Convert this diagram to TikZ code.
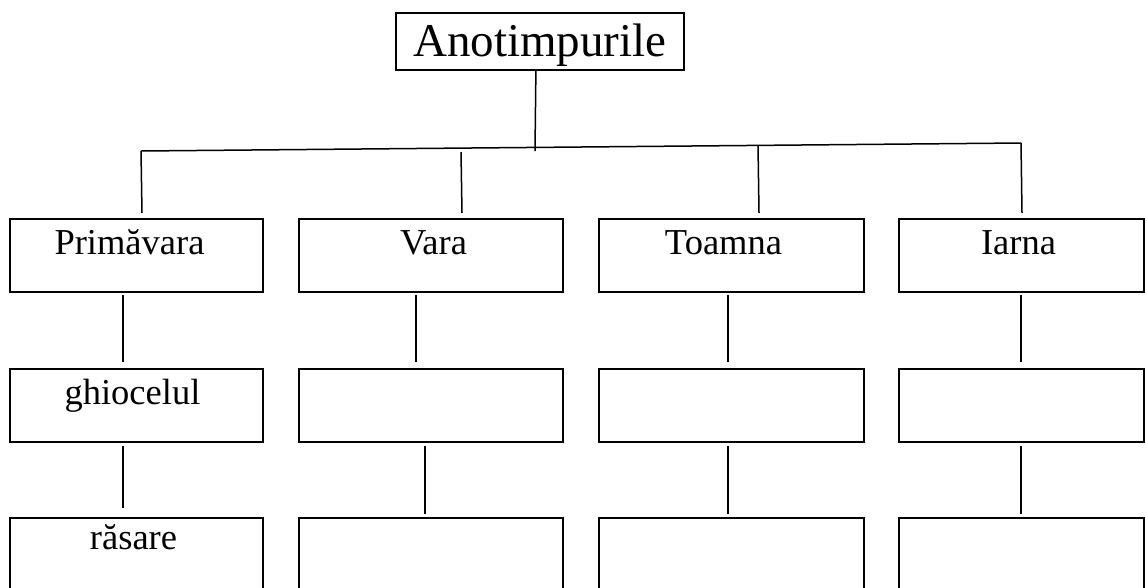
\documentclass[tikz,border=0pt]{standalone}
\usepackage{fontspec}
\setmainfont{Liberation Serif}

\begin{document}
\begin{tikzpicture}
                [
                x=1pt, y=-1pt,
                every node/.style={draw, line width=2pt, inner sep=0pt, align=center, anchor=north west},
                box/.style={text height=35pt, text depth=38pt, font=\fontsize{36.5}{36.5}\selectfont},
                lastbox/.style={text height=31pt, text depth=70pt, font=\fontsize{36.5}{36.5}\selectfont},
                link/.style={line width=1.5pt}
                ]
                \useasboundingbox (0,0) rectangle (1145,587);
                % Root node
                \node[text width=288pt, text height=44pt, text depth=13pt, line width=1.8pt,
                      font=\fontsize{47}{47}\selectfont] (root) at (395,12) {Anotimpurile};
                % Level 1: seasons
                \node[box, text width=253pt] (s1) at (9,218) {Primăvara\kern14pt};
                \node[box, text width=264pt] (s2) at (298,218) {\kern5pt Vara};
                \node[box, text width=265pt] (s3) at (598,218) {Toamna\kern16pt};
                \node[box, text width=245pt] (s4) at (898,218) {Iarna\kern6pt};
                % Level 2
                \node[box, text width=253pt] (a1) at (9,368) {ghiocelul\kern8pt};
                \node[box, text width=264pt] (a2) at (298,368) {};
                \node[box, text width=265pt] (a3) at (598,368) {};
                \node[box, text width=245pt] (a4) at (898,368) {};
                % Level 3
                \node[lastbox, text width=253pt] (b1) at (9,517) {răsare\kern6pt};
                \node[lastbox, text width=264pt] (b2) at (298,517) {};
                \node[lastbox, text width=265pt] (b3) at (598,517) {};
                \node[lastbox, text width=245pt] (b4) at (898,517) {};
                % Bar under the root
                \coordinate (stem) at (535,151);
                \coordinate (bl) at (141,151);
                \coordinate (br) at (1021,143);
                \coordinate (j2) at (461,152);
                \coordinate (j3) at (758,145);
                \draw[link] ([xshift=-4pt]root.south) -- (stem);
                \draw[link] (bl) -- (br);
                \draw[link] (bl) -- ([xshift=5.5pt, yshift=5pt]s1.north);
                \draw[link] (j2) -- ([xshift=31pt, yshift=5pt]s2.north);
                \draw[link] (j3) -- ([xshift=27.5pt, yshift=5pt]s3.north);
                \draw[link] (br) -- ([xshift=0.5pt, yshift=5pt]s4.north);
                % Columns
                \draw[link] ([xshift=-13.5pt, yshift=-2pt]s1.south) -- ([xshift=-13.5pt, yshift=6pt]a1.north);
                \draw[link] ([xshift=-13.5pt, yshift=-3pt]a1.south) -- ([xshift=-13.5pt, yshift=9pt]b1.north);
                \draw[link] ([xshift=-15pt, yshift=-2pt]s2.south) -- ([xshift=-15pt, yshift=6pt]a2.north);
                \draw[link] ([xshift=-6pt, yshift=-3pt]a2.south) -- ([xshift=-6pt, yshift=3pt]b2.north);
                \draw[link] ([xshift=-3.5pt, yshift=-2pt]s3.south) -- ([xshift=-3.5pt, yshift=6pt]a3.north);
                \draw[link] ([xshift=-3.5pt, yshift=-3pt]a3.south) -- ([xshift=-3.5pt, yshift=3pt]b3.north);
                \draw[link] ([xshift=-0.5pt, yshift=-2pt]s4.south) -- ([xshift=-0.5pt, yshift=6pt]a4.north);
                \draw[link] ([xshift=-0.5pt, yshift=-3pt]a4.south) -- ([xshift=-0.5pt, yshift=3pt]b4.north);
            \end{tikzpicture}
\end{document}
